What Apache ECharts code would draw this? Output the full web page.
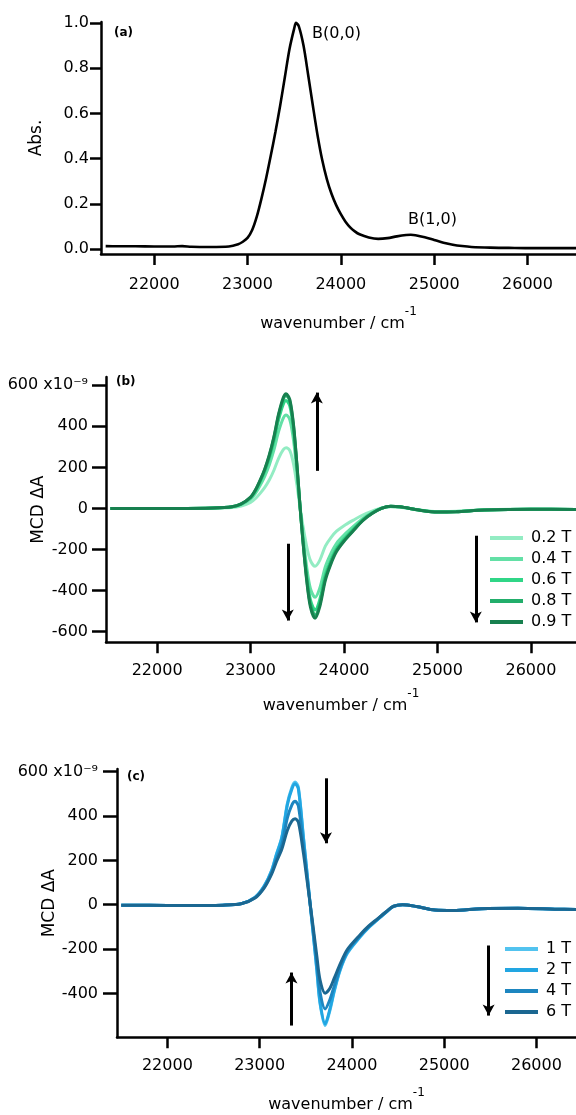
<!DOCTYPE html>
<html><head><meta charset="utf-8">
<script src="https://cdn.jsdelivr.net/npm/echarts@6/dist/echarts.min.js"></script>
<style>html,body{margin:0;padding:0;background:#fff}#c{width:576px;height:1115px}</style>
</head><body><div id="c"></div>
<script>
// ---------- data ----------
const absX = [21480,21600,21800,22000,22200,22300,22400,22600,22800,22900,22950,23000,23050,23100,23150,23200,23250,23300,23350,23400,23450,23500,23520,23550,23600,23650,23700,23750,23800,23850,23900,23950,24000,24050,24100,24150,24200,24300,24400,24500,24600,24700,24750,24800,24900,25000,25100,25200,25300,25400,25600,25800,26000,26300,26520];
const absY = [0.014,0.013,0.013,0.012,0.012,0.014,0.011,0.010,0.012,0.022,0.033,0.05,0.085,0.145,0.225,0.315,0.415,0.52,0.635,0.76,0.885,0.975,1.0,0.985,0.90,0.77,0.635,0.505,0.395,0.31,0.245,0.195,0.155,0.122,0.097,0.079,0.066,0.052,0.046,0.049,0.057,0.063,0.064,0.062,0.053,0.041,0.029,0.020,0.014,0.010,0.007,0.006,0.005,0.005,0.005];

const mcdBX = [21500,21800,22200,22600,22800,22900,23000,23050,23100,23150,23200,23250,23300,23350,23380,23420,23460,23500,23530,23560,23600,23640,23690,23740,23800,23860,23920,24000,24100,24200,24300,24400,24500,24600,24800,25000,25200,25500,26000,26500];
const mcdB_02 = [0,0,0,1,4,12,29,47,72,101,138,186,244,286,296,281,215,101,3,-84,-184,-253,-282,-253,-184,-142,-111,-84,-57,-32,-13,2,8,6,-7,-15,-14,-7,-3,-5];
const mcdB_04 = [0,0,0,2,7,18,45,72,110,155,212,285,375,440,455,432,330,155,4,-130,-284,-389,-433,-389,-284,-219,-170,-130,-88,-49,-20,1,9,7,-8,-17,-15,-8,-4,-5];
const mcdB_06 = [0,0,0,2,8,21,52,83,127,179,244,329,432,508,525,498,381,179,5,-148,-324,-444,-495,-444,-324,-250,-194,-148,-101,-56,-23,0,10,8,-8,-18,-16,-8,-4,-5];
const mcdB_08 = [0,0,0,2,8,22,54,87,133,187,256,345,454,532,550,523,399,187,5,-156,-340,-467,-520,-467,-340,-262,-204,-156,-106,-58,-24,0,10,8,-8,-18,-16,-8,-4,-5];
const mcdB_09 = [0,0,0,2,8,22,55,88,135,190,260,350,460,540,558,530,405,190,5,-160,-350,-480,-535,-480,-350,-270,-210,-160,-109,-60,-25,0,10,8,-8,-18,-16,-8,-4,-5];
const fieldsB = ['0.2 T','0.4 T','0.6 T','0.8 T','0.9 T'];
const colorsB = ['#93ecc3','#63e0a6','#30d687','#22ae6b','#17804f'];

const mcdCX = [21500,21800,22200,22600,22800,22950,23050,23130,23180,23240,23300,23350,23385,23420,23475,23510,23547,23580,23620,23655,23710,23760,23810,23872,23950,24089,24180,24270,24370,24450,24550,24700,24900,25100,25400,25800,26200,26430];
const mcdC_1 = [-3,-3,-4,-2,5,34,85,155,225,305,456,530,553,530,305,160,5,-130,-297,-447,-545,-480,-390,-297,-220,-146,-105,-71,-35,-8,0,-8,-24,-26,-18,-16,-20,-22];
const mcdC_2 = [-3,-3,-4,-2,5,33,84,153,222,300,449,522,545,522,300,158,5,-128,-293,-440,-537,-473,-384,-293,-217,-144,-103,-70,-34,-8,0,-8,-24,-26,-18,-16,-20,-22];
const mcdC_4 = [-3,-3,-4,-2,4,32,80,145,205,270,390,450,466,445,265,140,5,-115,-265,-395,-470,-430,-365,-285,-210,-140,-100,-68,-33,-8,0,-8,-24,-26,-18,-16,-20,-22];
const mcdC_6 = [-3,-3,-4,-2,4,30,76,138,192,250,335,378,388,372,232,122,5,-100,-232,-340,-399,-378,-330,-268,-202,-135,-97,-66,-32,-7,0,-8,-24,-26,-18,-16,-20,-22];
const fieldsC = ['1 T','2 T','4 T','6 T'];
const colorsC = ['#52c3ef','#22a6e2','#1d86c0','#1b6791'];

const xTicks = [22000,23000,24000,25000,26000];
const absTicks = [0,0.2,0.4,0.6,0.8,1.0];
const mcdTicksB = [-600,-400,-200,0,200,400,600];
const mcdTicksC = [-400,-200,0,200,400,600];

// arrows (data coordinates): [x, yStart, yEnd(tip)]
const arrowsB = [[23709,183,564],[23398,-172,-546],[25410,-133,-555]];
const arrowsC = [[23719,570,277],[23345,-545,-306],[25482,-184,-500]];

// ---------- helpers ----------
const FONT = 'DejaVu Sans';
const pairs = (xs, ys) => xs.map((x, i) => [x, ys[i]]);

function xAxisCfg(gi, min, max, nameGap, labelMargin) {
  return {
    type: 'value', gridIndex: gi, min: min, max: max,
    axisLine: {show: true, onZero: false, lineStyle: {color: '#000', width: 2.5}},
    axisTick: {show: true, customValues: xTicks, length: 11, lineStyle: {color: '#000', width: 2.5}},
    axisLabel: {customValues: xTicks, margin: labelMargin, color: '#000', fontFamily: FONT, fontSize: 16,
      formatter: v => String(v)},
    splitLine: {show: false},
    name: '{m|wavenumber / cm}{s|-1}', nameLocation: 'middle', nameGap: nameGap, nameMoveOverlap: false,
    nameTextStyle: {color: '#000', fontFamily: FONT, fontSize: 16,
      rich: {
        m: {fontFamily: FONT, fontSize: 16, color: '#000', padding: [10, 0, 0, 0], verticalAlign: 'bottom'},
        s: {fontFamily: FONT, fontSize: 12, color: '#000', verticalAlign: 'top'}
      }}
  };
}
function yAxisCfg(gi, min, max, ticks, fmt, name, nameGap, labelMargin, tickLen) {
  return {
    type: 'value', gridIndex: gi, min: min, max: max,
    axisLine: {show: true, onZero: false, lineStyle: {color: '#000', width: 2.5}},
    axisTick: {show: true, customValues: ticks, length: tickLen, lineStyle: {color: '#000', width: 2.5}},
    axisLabel: {customValues: ticks, margin: labelMargin, color: '#000', fontFamily: FONT, fontSize: 16,
      formatter: fmt},
    splitLine: {show: false},
    name: name, nameLocation: 'middle', nameGap: nameGap, nameMoveOverlap: false,
    nameTextStyle: {color: '#000', fontFamily: FONT, fontSize: 17}
  };
}
const mcdFmt = v => (v === 600 ? '600 x10\u207B\u2079' : String(v));

function arrowMarks(list) {
  return {
    silent: true, animation: false,
    symbol: ['none', 'arrow'], symbolSize: [9, 11],
    lineStyle: {color: '#000', width: 3, type: 'solid'},
    label: {show: false},
    emphasis: {disabled: true},
    data: list.map(a => [{coord: [a[0], a[1]]}, {coord: [a[0], a[2]]}])
  };
}
function lineSeries(name, gi, data, color, width) {
  return {
    name: name, type: 'line', xAxisIndex: gi, yAxisIndex: gi, data: data,
    showSymbol: false, symbol: 'none', smooth: 0.3, color: color,
    lineStyle: {color: color, width: width}, animation: false, silent: true, z: 3
  };
}

// ---------- series ----------
const series = [];
series.push(lineSeries('Abs', 0, pairs(absX, absY), '#000', 2.6));
const bData = [mcdB_02, mcdB_04, mcdB_06, mcdB_08, mcdB_09];
fieldsB.forEach((f, i) => series.push(lineSeries(f, 1, pairs(mcdBX, bData[i]), colorsB[i], 3)));
series[series.length - 1].markLine = arrowMarks(arrowsB);
const cData = [mcdC_1, mcdC_2, mcdC_4, mcdC_6];
fieldsC.forEach((f, i) => series.push(lineSeries(f, 2, pairs(mcdCX, cData[i]), colorsC[i], 3)));
series[series.length - 1].markLine = arrowMarks(arrowsC);

const legendCommon = {
  orient: 'vertical', icon: 'rect', itemWidth: 33, itemHeight: 4, itemGap: 5, padding: 0,
  selectedMode: false, textStyle: {fontFamily: FONT, fontSize: 16, color: '#000', padding: [0, 0, 0, 3]}
};

const option = {
  backgroundColor: '#fff',
  animation: false,
  grid: [
    {left: 101, right: 0, top: 22, bottom: 861, outerBoundsMode: 'none', containLabel: false},
    {left: 106, right: 0, top: 377, bottom: 472.7, outerBoundsMode: 'none', containLabel: false},
    {left: 117, right: 0, top: 769, bottom: 77.7, outerBoundsMode: 'none', containLabel: false}
  ],
  xAxis: [
    xAxisCfg(0, 21430, 26520, 52, 23),
    xAxisCfg(1, 21453, 26482, 46, 21),
    xAxisCfg(2, 21454, 26429, 50, 21)
  ],
  yAxis: [
    yAxisCfg(0, -0.021, 1.004, absTicks, v => v.toFixed(1), 'Abs.', 56, 12, 11),
    yAxisCfg(1, -652, 640, mcdTicksB, mcdFmt, 'MCD ΔA', 59, 18, 14),
    yAxisCfg(2, -598, 612, mcdTicksC, mcdFmt, 'MCD ΔA', 59, 19, 14)
  ],
  legend: [
    Object.assign({data: fieldsB, left: 490, top: 530}, legendCommon),
    Object.assign({data: fieldsC, left: 505, top: 941}, legendCommon)
  ],
  graphic: [
    {type: 'text', x: 114, y: 33, style: {text: '(a)', font: 'bold 12px "DejaVu Sans"', fill: '#000', align: 'left', verticalAlign: 'middle'}},
    {type: 'text', x: 116, y: 382, style: {text: '(b)', font: 'bold 12px "DejaVu Sans"', fill: '#000', align: 'left', verticalAlign: 'middle'}},
    {type: 'text', x: 127, y: 777, style: {text: '(c)', font: 'bold 12px "DejaVu Sans"', fill: '#000', align: 'left', verticalAlign: 'middle'}},
    {type: 'text', x: 312, y: 34, style: {text: 'B(0,0)', font: '16px "DejaVu Sans"', fill: '#000', align: 'left', verticalAlign: 'middle'}},
    {type: 'text', x: 408, y: 220, style: {text: 'B(1,0)', font: '16px "DejaVu Sans"', fill: '#000', align: 'left', verticalAlign: 'middle'}}
  ],
  series: series
};

const chart = echarts.init(document.getElementById('c'), null, {renderer: 'canvas'});
chart.setOption(option);
</script>
</body></html>
